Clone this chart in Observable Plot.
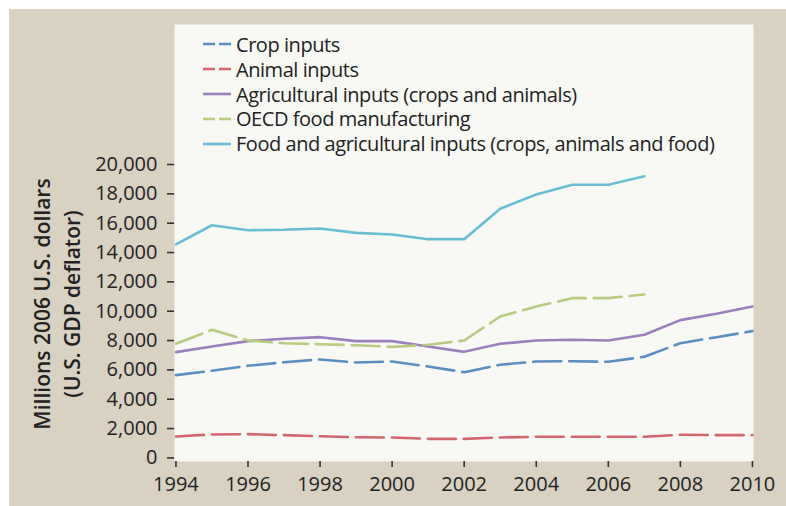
<!DOCTYPE html>
<html>
<head>
<meta charset="utf-8">
<script src="https://cdn.jsdelivr.net/npm/d3@7"></script>
<script src="https://cdn.jsdelivr.net/npm/@observablehq/plot@0.6"></script>
<style>
  html, body { margin: 0; padding: 0; background: #ffffff; }
  #wrap { position: relative; width: 786px; height: 506px; overflow: hidden; }
  #bg { position: absolute; left: 9px; top: 9px; right: 0; bottom: 0; background: #d9d1c1; }
  #chart { position: absolute; left: 0; top: 0; }
  #chart svg g[aria-label="frame"] rect { filter: drop-shadow(0px 1px 6px rgba(90, 72, 40, 0.6)); }
  #legend { position: absolute; left: 203px; top: 32px; font-family: "Open Sans", sans-serif; font-size: 20px; letter-spacing: -0.45px; color: #222; }
  .row { height: 24.8px; display: flex; align-items: center; white-space: nowrap; }
  .row svg { margin-right: 5px; }
  #ytitle { position: absolute; left: 57px; top: 304px; transform: translate(-50%, -50%) rotate(-90deg);
    font-family: "Open Sans", sans-serif; font-weight: 600; font-size: 21px; line-height: 30px; color: #222; text-align: center; white-space: nowrap; }
</style>
</head>
<body>
<div id="wrap">
  <div id="bg"></div>
  <div id="chart"></div>
  <div id="legend"></div>
  <div id="ytitle"></div>
</div>
<script>
// ---- data ----
const years = [1994, 1995, 1996, 1997, 1998, 1999, 2000, 2001, 2002, 2003, 2004, 2005, 2006, 2007, 2008, 2009, 2010];
const cropInputs = [5640, 5940, 6280, 6520, 6710, 6500, 6570, 6230, 5840, 6350, 6570, 6590, 6550, 6890, 7820, 8230, 8640];
const animalInputs = [1460, 1600, 1620, 1550, 1480, 1410, 1390, 1300, 1300, 1390, 1440, 1440, 1440, 1440, 1580, 1550, 1550];
const agriculturalInputs = [7210, 7590, 7960, 8120, 8230, 7960, 7960, 7590, 7230, 7780, 8000, 8050, 8000, 8390, 9390, 9820, 10320];
const oecdYears = [1994, 1995, 1996, 1997, 1998, 1999, 2000, 2001, 2002, 2003, 2004, 2005, 2006, 2007];
const oecdFood = [7780, 8730, 8000, 7820, 7750, 7680, 7570, 7710, 8000, 9640, 10320, 10890, 10890, 11140];
const foodAgri = [14550, 15860, 15520, 15550, 15640, 15340, 15230, 14910, 14910, 16980, 17960, 18620, 18620, 19200];

const seriesNames = [
  "Crop inputs",
  "Animal inputs",
  "Agricultural inputs (crops and animals)",
  "OECD food manufacturing",
  "Food and agricultural inputs (crops, animals and food)"
];
const xTicks = [1994, 1996, 1998, 2000, 2002, 2004, 2006, 2008, 2010];
const yTicks = [0, 2000, 4000, 6000, 8000, 10000, 12000, 14000, 16000, 18000, 20000];
const yTitle = ["Millions 2006 U.S. dollars", "(U.S. GDP deflator)"];

// ---- styles ----
const colors = ["#5b8fc2", "#d4666f", "#9b80bd", "#b8cb7f", "#69bed3"];
const dashed = [true, true, false, true, false];

const seriesData = [
  {years: years, values: cropInputs},
  {years: years, values: animalInputs},
  {years: years, values: agriculturalInputs},
  {years: oecdYears, values: oecdFood},
  {years: oecdYears, values: foodAgri}
];

const lineMarks = seriesData.map((s, i) => {
  const rows = s.years.map((yr, j) => ({year: yr, value: s.values[j]}));
  return Plot.lineY(rows, {
    x: "year", y: "value",
    stroke: colors[i], strokeWidth: 2.6,
    strokeDasharray: dashed[i] ? "28,8" : null,
    strokeLinejoin: "round"
  });
});

const chart = Plot.plot({
  width: 786,
  height: 506,
  marginLeft: 174,
  marginRight: 33,
  marginTop: 24,
  marginBottom: 45,
  style: {background: "transparent", fontFamily: "'Open Sans', sans-serif", fontSize: "20px", color: "#222"},
  x: {domain: [1993.96, 2010.03]},
  y: {domain: [-245, 29543]},
  marks: [
    Plot.frame({fill: "#f8f9f4", stroke: null}),
    Plot.axisX({ticks: xTicks, tickFormat: d => String(d), tickSize: 6, tickPadding: 9, label: null, stroke: "#333", strokeWidth: 1.6, fontSize: 20}),
    Plot.axisY({ticks: yTicks, tickFormat: d3.format(","), tickSize: 7, tickPadding: 10, label: null, stroke: "#333", strokeWidth: 1.6, fontSize: 20}),
    ...lineMarks
  ]
});
document.getElementById("chart").appendChild(chart);

// legend
const legend = d3.select("#legend");
seriesNames.forEach((name, i) => {
  const row = legend.append("div").attr("class", "row");
  const sw = row.append("svg").attr("width", 28).attr("height", 10);
  sw.append("line").attr("x1", 0).attr("x2", 28).attr("y1", 5).attr("y2", 5)
    .attr("stroke", colors[i]).attr("stroke-width", 2.6)
    .attr("stroke-dasharray", dashed[i] ? "12,4" : null);
  row.append("span").text(name);
});

// y title
const yt = d3.select("#ytitle");
yTitle.forEach(t => yt.append("div").text(t));
</script>
</body>
</html>
